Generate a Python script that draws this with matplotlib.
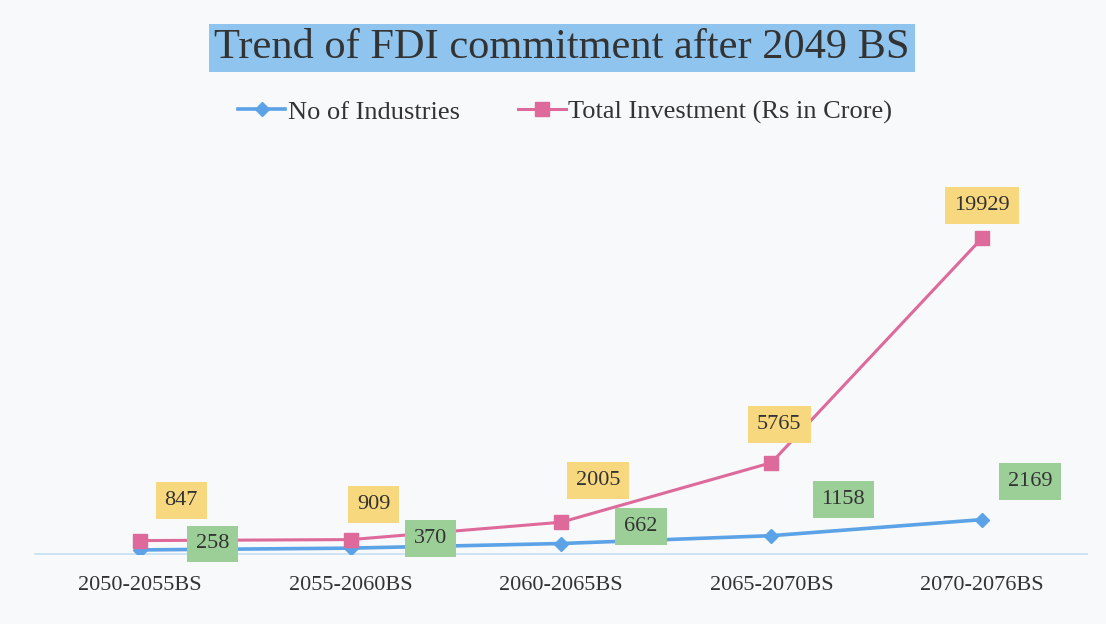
import matplotlib
matplotlib.use("Agg")
import matplotlib.pyplot as plt

categories = ["2050-2055BS", "2055-2060BS", "2060-2065BS", "2065-2070BS", "2070-2076BS"]
industries = [258, 370, 662, 1158, 2169]
investment = [847, 909, 2005, 5765, 19929]
title = "Trend of FDI commitment after 2049 BS"
legend_labels = ["No of Industries", "Total Investment (Rs in Crore)"]

# label offsets in pixels (layout only)
inv_off = [(41, 40), (23, 35), (37, 42), (8, 38), (0, 33)]
ind_off = [(72, 6), (80, 10), (80, 17), (72, 36), (48, 38)]

plt.rcParams['font.family'] = ['Liberation Serif', 'DejaVu Serif']

W, H = 1106, 624
fig = plt.figure(figsize=(W / 100, H / 100), dpi=100)
fig.patch.set_facecolor('#f7f9fb')

ax = fig.add_axes([35 / W, 1 - 554 / H, (1087 - 35) / W, 396 / H])
ax.set_facecolor('none')

x = list(range(len(categories)))
blue = '#5ba3e6'
pink = '#dd6a9b'
ax.plot(x, industries, color=blue, lw=2.6, marker='D', ms=7, mec=blue, mfc=blue,
        label=legend_labels[0], zorder=3)
ax.plot(x, investment, color=pink, lw=2.2, marker='s', ms=10, mec=pink, mfc=pink,
        label=legend_labels[1], zorder=3)

ax.set_xlim(-0.5, len(categories) - 0.5)
ax.set_ylim(0, 25000)
ax.set_yticks([])
ax.set_xticks(x)
ax.set_xticklabels(categories, fontsize=16, color='#333333')
ax.tick_params(axis='x', length=0, pad=16)
for s in ['top', 'left', 'right']:
    ax.spines[s].set_visible(False)
ax.spines['bottom'].set_color('#c5dff0')
ax.spines['bottom'].set_linewidth(1.2)

for i, v in enumerate(investment):
    dx, dy = inv_off[i]
    ax.annotate(str(v), (i, v), xytext=(dx * 0.72, dy * 0.72), textcoords='offset points',
                ha='center', va='center', fontsize=16, color='#333333', zorder=5,
                bbox=dict(boxstyle='square,pad=0.4', fc='#f8d87e', ec='none'))
for i, v in enumerate(industries):
    dx, dy = ind_off[i]
    ax.annotate(str(v), (i, v), xytext=(dx * 0.72, dy * 0.72), textcoords='offset points',
                ha='center', va='center', fontsize=16, color='#333333', zorder=5,
                bbox=dict(boxstyle='square,pad=0.4', fc='#9ccf98', ec='none'))

fig.text(562 / W, 1 - 48 / H, title, ha='center', va='center', fontsize=30.5, color='#333333',
         bbox=dict(boxstyle='square,pad=0.12', fc='#8fc4ee', ec='none'))

fig.legend(loc='center', bbox_to_anchor=(565 / W, 1 - 112 / H), ncol=2, frameon=False,
           fontsize=19, handlelength=1.8, columnspacing=2.2, handletextpad=0.1,
           labelcolor='#333333')

fig.savefig('out.png', dpi=100, facecolor=fig.get_facecolor())
